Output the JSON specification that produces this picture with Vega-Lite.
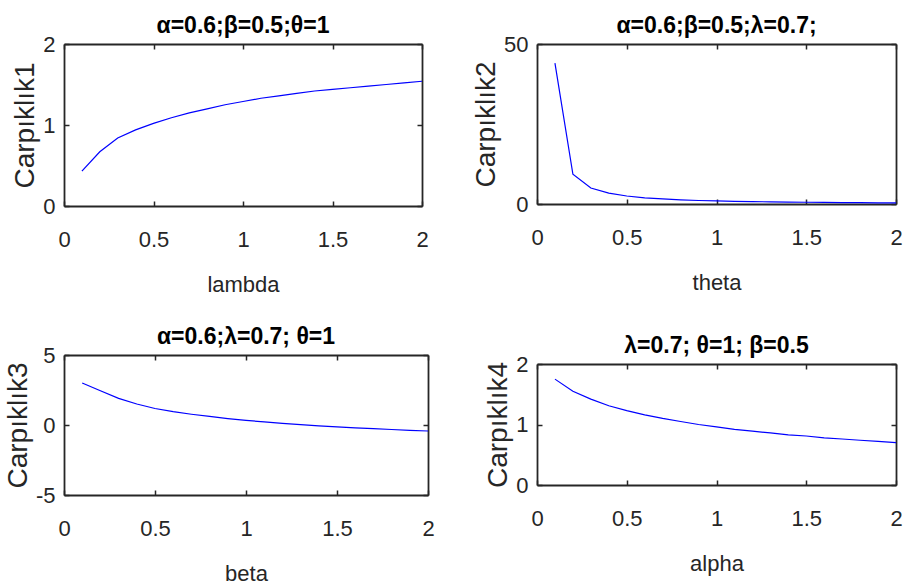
{
  "$schema": "https://vega.github.io/schema/vega-lite/v6.json",
  "background": "white",
  "padding": {"left": 4, "top": 15, "right": 0, "bottom": 0},
  "datasets": {
    "p1": [
      {"x": 0.1, "y": 0.43}, {"x": 0.2, "y": 0.67}, {"x": 0.3, "y": 0.84}, {"x": 0.4, "y": 0.94}, {"x": 0.5, "y": 1.02},
      {"x": 0.6, "y": 1.09}, {"x": 0.7, "y": 1.15}, {"x": 0.8, "y": 1.20}, {"x": 0.9, "y": 1.25}, {"x": 1.0, "y": 1.29},
      {"x": 1.1, "y": 1.33}, {"x": 1.2, "y": 1.36}, {"x": 1.3, "y": 1.39}, {"x": 1.4, "y": 1.42}, {"x": 1.5, "y": 1.44},
      {"x": 1.6, "y": 1.46}, {"x": 1.7, "y": 1.48}, {"x": 1.8, "y": 1.50}, {"x": 1.9, "y": 1.52}, {"x": 2.0, "y": 1.54}
    ],
    "p2": [
      {"x": 0.1, "y": 44.0}, {"x": 0.2, "y": 9.3}, {"x": 0.3, "y": 5.0}, {"x": 0.4, "y": 3.4}, {"x": 0.5, "y": 2.5},
      {"x": 0.6, "y": 1.9}, {"x": 0.7, "y": 1.6}, {"x": 0.8, "y": 1.3}, {"x": 0.9, "y": 1.1}, {"x": 1.0, "y": 0.95},
      {"x": 1.1, "y": 0.85}, {"x": 1.2, "y": 0.75}, {"x": 1.3, "y": 0.67}, {"x": 1.4, "y": 0.6}, {"x": 1.5, "y": 0.55},
      {"x": 1.6, "y": 0.5}, {"x": 1.7, "y": 0.45}, {"x": 1.8, "y": 0.42}, {"x": 1.9, "y": 0.38}, {"x": 2.0, "y": 0.35}
    ],
    "p3": [
      {"x": 0.1, "y": 3.0}, {"x": 0.2, "y": 2.45}, {"x": 0.3, "y": 1.9}, {"x": 0.4, "y": 1.5}, {"x": 0.5, "y": 1.18},
      {"x": 0.6, "y": 0.95}, {"x": 0.7, "y": 0.77}, {"x": 0.8, "y": 0.61}, {"x": 0.9, "y": 0.46}, {"x": 1.0, "y": 0.33},
      {"x": 1.1, "y": 0.22}, {"x": 1.2, "y": 0.12}, {"x": 1.3, "y": 0.03}, {"x": 1.4, "y": -0.06}, {"x": 1.5, "y": -0.14},
      {"x": 1.6, "y": -0.2}, {"x": 1.7, "y": -0.26}, {"x": 1.8, "y": -0.32}, {"x": 1.9, "y": -0.38}, {"x": 2.0, "y": -0.43}
    ],
    "p4": [
      {"x": 0.1, "y": 1.75}, {"x": 0.2, "y": 1.55}, {"x": 0.3, "y": 1.42}, {"x": 0.4, "y": 1.31}, {"x": 0.5, "y": 1.23},
      {"x": 0.6, "y": 1.16}, {"x": 0.7, "y": 1.10}, {"x": 0.8, "y": 1.05}, {"x": 0.9, "y": 1.00}, {"x": 1.0, "y": 0.96},
      {"x": 1.1, "y": 0.92}, {"x": 1.2, "y": 0.89}, {"x": 1.3, "y": 0.86}, {"x": 1.4, "y": 0.83}, {"x": 1.5, "y": 0.81},
      {"x": 1.6, "y": 0.78}, {"x": 1.7, "y": 0.76}, {"x": 1.8, "y": 0.74}, {"x": 1.9, "y": 0.72}, {"x": 2.0, "y": 0.70}
    ]
  },
  "columns": 2,
  "align": {"column": "all", "row": "none"},
  "spacing": {"column": 37, "row": 31},
  "concat": [
    {
      "width": 358, "height": 162,
      "data": {"name": "p1"},
      "title": "α=0.6;β=0.5;θ=1",
      "layer": [
        {"mark": {"type": "line", "color": "#0000ff", "strokeWidth": 1.2},
         "encoding": {
           "x": {"field": "x", "type": "quantitative", "scale": {"domain": [0, 2]}, "axis": {"title": "lambda", "values": [0, 0.5, 1, 1.5, 2]}},
           "y": {"field": "y", "type": "quantitative", "scale": {"domain": [0, 2]}, "axis": {"title": "Carpıklık1", "values": [0, 1, 2]}}
         }},
        {"mark": {"type": "line", "strokeOpacity": 0},
         "encoding": {
           "x": {"field": "x", "type": "quantitative", "axis": {"orient": "top", "labels": false, "title": null, "values": [0, 0.5, 1, 1.5, 2]}},
           "y": {"field": "y", "type": "quantitative", "axis": {"orient": "right", "labels": false, "title": null, "values": [0, 1, 2]}}
         }}
      ],
      "resolve": {"axis": {"x": "independent", "y": "independent"}}
    },
    {
      "width": 359, "height": 160,
      "data": {"name": "p2"},
      "title": "α=0.6;β=0.5;λ=0.7;",
      "layer": [
        {"mark": {"type": "line", "color": "#0000ff", "strokeWidth": 1.2},
         "encoding": {
           "x": {"field": "x", "type": "quantitative", "scale": {"domain": [0, 2]}, "axis": {"title": "theta", "values": [0, 0.5, 1, 1.5, 2]}},
           "y": {"field": "y", "type": "quantitative", "scale": {"domain": [0, 50]}, "axis": {"title": "Carpıklık2", "values": [0, 50]}}
         }},
        {"mark": {"type": "line", "strokeOpacity": 0},
         "encoding": {
           "x": {"field": "x", "type": "quantitative", "axis": {"orient": "top", "labels": false, "title": null, "values": [0, 0.5, 1, 1.5, 2]}},
           "y": {"field": "y", "type": "quantitative", "axis": {"orient": "right", "labels": false, "title": null, "values": [0, 50]}}
         }}
      ],
      "resolve": {"axis": {"x": "independent", "y": "independent"}}
    },
    {
      "width": 364, "height": 140,
      "data": {"name": "p3"},
      "title": "α=0.6;λ=0.7; θ=1",
      "layer": [
        {"mark": {"type": "line", "color": "#0000ff", "strokeWidth": 1.2},
         "encoding": {
           "x": {"field": "x", "type": "quantitative", "scale": {"domain": [0, 2]}, "axis": {"title": "beta", "values": [0, 0.5, 1, 1.5, 2]}},
           "y": {"field": "y", "type": "quantitative", "scale": {"domain": [-5, 5]}, "axis": {"title": "Carpıklık3", "values": [-5, 0, 5]}}
         }},
        {"mark": {"type": "line", "strokeOpacity": 0},
         "encoding": {
           "x": {"field": "x", "type": "quantitative", "axis": {"orient": "top", "labels": false, "title": null, "values": [0, 0.5, 1, 1.5, 2]}},
           "y": {"field": "y", "type": "quantitative", "axis": {"orient": "right", "labels": false, "title": null, "values": [-5, 0, 5]}}
         }}
      ],
      "resolve": {"axis": {"x": "independent", "y": "independent"}}
    },
    {
      "width": 359, "height": 121,
      "data": {"name": "p4"},
      "title": {"text": ["", "λ=0.7; θ=1; β=0.5"], "lineHeight": 9},
      "layer": [
        {"mark": {"type": "line", "color": "#0000ff", "strokeWidth": 1.2},
         "encoding": {
           "x": {"field": "x", "type": "quantitative", "scale": {"domain": [0, 2]}, "axis": {"title": "alpha", "values": [0, 0.5, 1, 1.5, 2]}},
           "y": {"field": "y", "type": "quantitative", "scale": {"domain": [0, 2]}, "axis": {"title": "Carpıklık4", "values": [0, 1, 2]}}
         }},
        {"mark": {"type": "line", "strokeOpacity": 0},
         "encoding": {
           "x": {"field": "x", "type": "quantitative", "axis": {"orient": "top", "labels": false, "title": null, "values": [0, 0.5, 1, 1.5, 2]}},
           "y": {"field": "y", "type": "quantitative", "axis": {"orient": "right", "labels": false, "title": null, "values": [0, 1, 2]}}
         }}
      ],
      "resolve": {"axis": {"x": "independent", "y": "independent"}}
    }
  ],
  "config": {
    "view": {"stroke": null},
    "axis": {
      "grid": false,
      "domainColor": "#262626", "domainWidth": 1.8,
      "tickColor": "#262626", "tickWidth": 1.5, "tickSize": -5,
      "labelFont": "Liberation Sans, Arial, sans-serif",
      "labelFontSize": 22, "labelColor": "#262626",
      "labelExpr": "'' + datum.value",
      "titleColor": "#262626", "titleFontWeight": "normal",
      "labelFlush": false, "labelOverlap": false
    },
    "axisX": {
      "labelPadding": 28, "titlePadding": 24,
      "titleFont": "Liberation Sans, Arial, sans-serif",
      "titleFontSize": 22
    },
    "axisY": {
      "labelPadding": 14, "titlePadding": 3,
      "titleFont": "Liberation Sans, Arial, sans-serif",
      "titleFontSize": 28
    },
    "title": {
      "font": "Liberation Sans, Arial, sans-serif",
      "fontSize": 23, "fontWeight": "bold", "color": "#000000", "offset": -5
    }
  }
}
